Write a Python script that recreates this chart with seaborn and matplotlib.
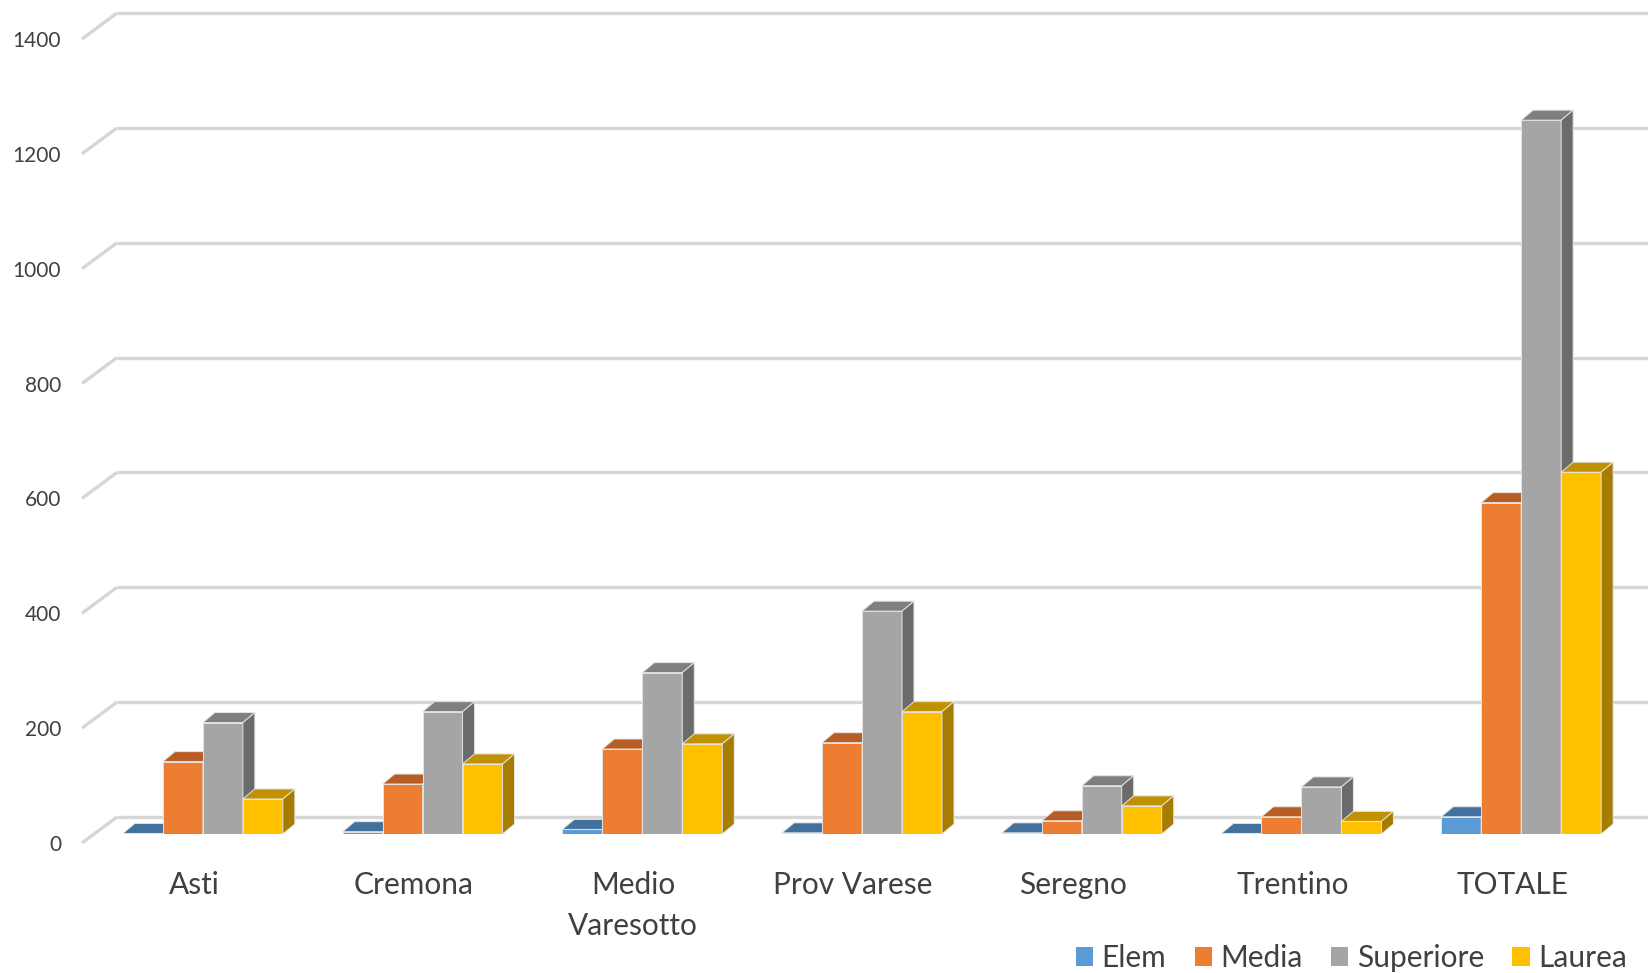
import matplotlib
matplotlib.use("Agg")
import matplotlib.pyplot as plt
from matplotlib.patches import Polygon, Patch
import pandas as pd
import seaborn as sns

# ---- data -------------------------------------------------------------
regioni = ["Asti", "Cremona", "Medio\nVaresotto", "Prov Varese", "Seregno", "Trentino", "TOTALE"]
livelli = ["Elem", "Media", "Superiore", "Laurea"]
elem = [1, 4, 8, 2, 2, 1, 30]
media = [126, 87, 148, 159, 23, 30, 577]
superiore = [194, 213, 281, 388, 84, 82, 1243]
laurea = [61, 122, 157, 213, 49, 22, 630]
y_ticks = [0, 200, 400, 600, 800, 1000, 1200, 1400]

# front / top / side shades of each series
colori = ["#5B9BD5", "#ED7D31", "#A5A5A5", "#FFC000"]
colori_top = ["#41719C", "#B85E24", "#7F7F7F", "#C09100"]
colori_lato = ["#3A6891", "#A6541F", "#6B6B6B", "#A67D00"]

df = pd.DataFrame({
    "regione": regioni * 4,
    "livello": sum([[l] * len(regioni) for l in livelli], []),
    "valore": elem + media + superiore + laurea,
})

# ---- figure -----------------------------------------------------------
sns.set_theme(style="white")
plt.rcParams["font.family"] = ["Lato", "DejaVu Sans"]
TXT = "#404040"

W, H, DPI = 1648, 973, 100
fig = plt.figure(figsize=(W / DPI, H / DPI), dpi=DPI)
fig.patch.set_facecolor("white")

left_px, right_px, base_px, top_px = 93, 1631, 834, 30
ax = fig.add_axes([left_px / W, (H - base_px) / H,
                   (right_px - left_px) / W, (base_px - top_px) / H])

sns.barplot(data=df, x="regione", y="valore", hue="livello",
            order=regioni, hue_order=livelli, palette=colori,
            saturation=1, width=0.728, gap=0, errorbar=None,
            legend=False, ax=ax, edgecolor="#E4E4E4", linewidth=0.7)
ax.set_xlim(-0.5, len(regioni) - 0.5)
ax.set_ylim(0, y_ticks[-1])
ax.set_axis_off()

# pixel -> data conversion factors
p0 = ax.transData.transform((0, 0))
p1 = ax.transData.transform((1, 1))
sx, sy = p1[0] - p0[0], p1[1] - p0[1]
def px_x(p):
    return p / sx
def px_y(p):
    return p / sy

# 3D look: top and right faces for each bar
DX, DY = px_x(12), px_y(10)
for i, cont in enumerate(ax.containers):
    for bar in cont:
        x0, w, h = bar.get_x(), bar.get_width(), bar.get_height()
        bar.set_zorder(10 + 2 * i)
        top = Polygon([(x0, h), (x0 + w, h), (x0 + w + DX, h + DY), (x0 + DX, h + DY)],
                      closed=True, facecolor=colori_top[i], edgecolor="#E4E4E4",
                      linewidth=0.7, zorder=11 + 2 * i)
        side = Polygon([(x0 + w, 0), (x0 + w + DX, DY), (x0 + w + DX, h + DY), (x0 + w, h)],
                       closed=True, facecolor=colori_lato[i], edgecolor="#E4E4E4",
                       linewidth=0.7, zorder=11 + 2 * i)
        ax.add_patch(top)
        ax.add_patch(side)

# back-wall gridlines, floor diagonals and value labels
x_wall = -0.5 + px_x(117 - left_px)
x_end = -0.5 + px_x(W - left_px)
x_front = -0.5 + px_x(82 - left_px)
for v in y_ticks:
    ax.plot([x_wall, x_end], [v + px_y(17), v + px_y(17)], color="#D6D6D6",
            lw=2.4, solid_capstyle="butt", clip_on=False, zorder=1)
    ax.plot([x_front, x_wall], [v - px_y(9), v + px_y(17)], color="#D6D6D6",
            lw=2.4, solid_capstyle="butt", clip_on=False, zorder=1)
    ax.text(-0.5 + px_x(61 - left_px), v - px_y(11), str(v), ha="right", va="center",
            fontsize=15, color=TXT, clip_on=False)

# category labels
for k, nome in enumerate(regioni):
    ax.text(k - px_x(9), -px_y(37), nome, ha="center", va="top", fontsize=21.5,
            color=TXT, linespacing=1.56, clip_on=False)

# legend
handles = [Patch(facecolor=c, edgecolor="none", label=l) for c, l in zip(colori, livelli)]
fig.legend(handles=handles, loc="center right", bbox_to_anchor=(1627 / W, (H - 958) / H),
           ncol=4, frameon=False, fontsize=21.5, handlelength=0.58, handleheight=0.58,
           handletextpad=0.28, columnspacing=0.95, borderaxespad=0, borderpad=0,
           labelcolor=TXT)

fig.savefig("out.png", dpi=DPI, facecolor="white")
